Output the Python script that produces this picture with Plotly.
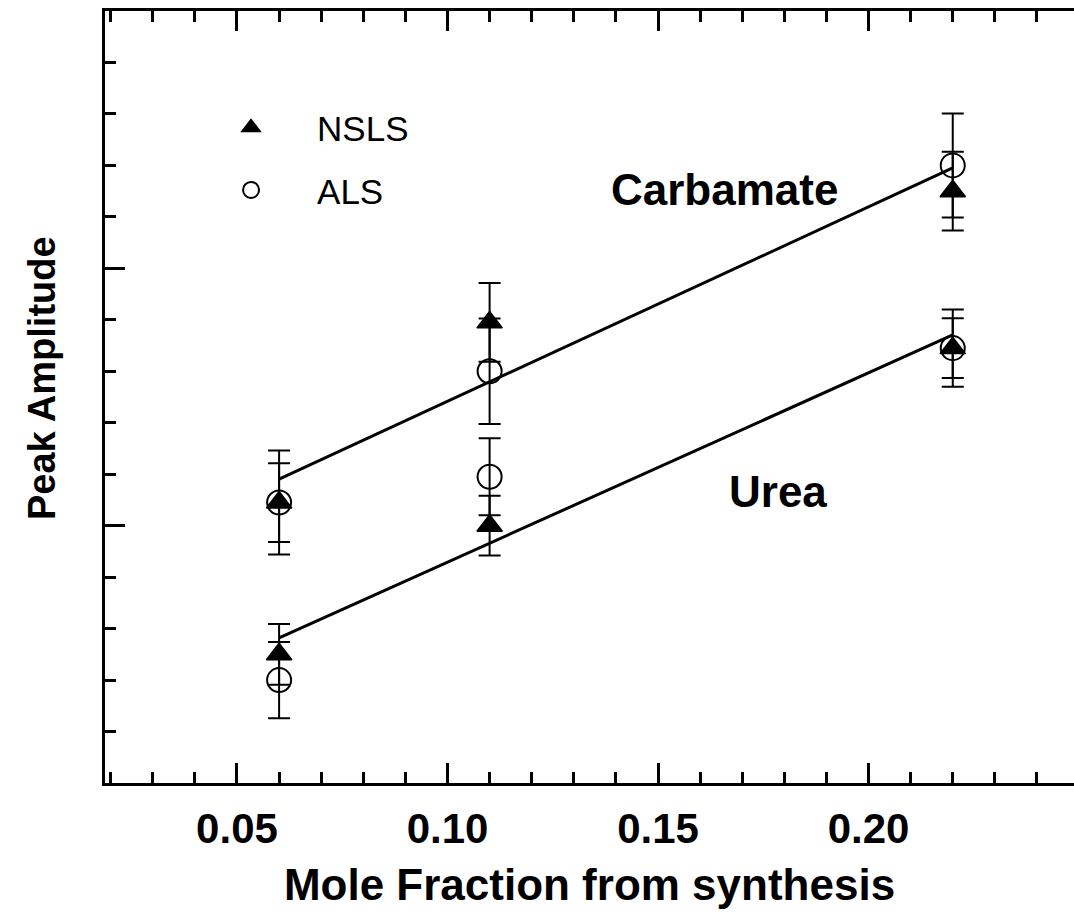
import plotly.graph_objects as go

# ---- data ----
mole_fraction = [0.06, 0.11, 0.22]

nsls_carbamate = [1.09, 1.79, 2.30]
nsls_carbamate_err = [0.153, 0.153, 0.153]
als_carbamate = [1.09, 1.60, 2.40]
als_carbamate_err = [0.202, 0.205, 0.202]

nsls_urea = [0.50, 1.00, 1.69]
nsls_urea_err = [0.118, 0.116, 0.116]
als_urea = [0.40, 1.19, 1.69]
als_urea_err = [0.148, 0.150, 0.150]

fit_x = [0.06, 0.22]
carbamate_fit = [1.181, 2.39]
urea_fit = [0.564, 1.741]

x_tickvals = [0.05, 0.10, 0.15, 0.20]
x_ticktext = ["0.05", "0.10", "0.15", "0.20"]

FONT = "Liberation Sans, Arial, Helvetica, sans-serif"
X_RANGE = [0.01865, 0.2488]

fig = go.Figure()

# fit lines (drawn against the top x axes, which share the same range)
fig.add_trace(go.Scatter(x=fit_x, y=carbamate_fit, mode="lines", xaxis="x2", yaxis="y",
                         line=dict(color="black", width=3),
                         showlegend=False, hoverinfo="skip"))
fig.add_trace(go.Scatter(x=fit_x, y=urea_fit, mode="lines", xaxis="x3", yaxis="y",
                         line=dict(color="black", width=3),
                         showlegend=False, hoverinfo="skip"))

def err(arr):
    return dict(type="data", array=arr, visible=True, color="black",
                thickness=2, width=11)

# NSLS (filled triangles)
fig.add_trace(go.Scatter(x=mole_fraction, y=nsls_carbamate, mode="markers",
                         name="NSLS", legendgroup="nsls",
                         marker=dict(symbol="triangle-up", size=22, color="black",
                                     line=dict(color="black", width=1.5)),
                         error_y=err(nsls_carbamate_err)))
fig.add_trace(go.Scatter(x=mole_fraction, y=nsls_urea, mode="markers",
                         name="NSLS", legendgroup="nsls", showlegend=False,
                         marker=dict(symbol="triangle-up", size=22, color="black",
                                     line=dict(color="black", width=1.5)),
                         error_y=err(nsls_urea_err)))
# ALS (open circles)
fig.add_trace(go.Scatter(x=mole_fraction, y=als_carbamate, mode="markers",
                         name="ALS", legendgroup="als",
                         marker=dict(symbol="circle-open", size=24, color="black",
                                     line=dict(color="black", width=2)),
                         error_y=err(als_carbamate_err)))
fig.add_trace(go.Scatter(x=mole_fraction, y=als_urea, mode="markers",
                         name="ALS", legendgroup="als", showlegend=False,
                         marker=dict(symbol="circle-open", size=24, color="black",
                                     line=dict(color="black", width=2)),
                         error_y=err(als_urea_err)))

fig.add_annotation(x=0.1658, y=2.305, text="Carbamate", showarrow=False,
                   font=dict(family=FONT, size=44, color="black", weight="bold"))
fig.add_annotation(x=0.1785, y=1.131, text="Urea", showarrow=False,
                   font=dict(family=FONT, size=44, color="black", weight="bold"))
# y-axis title
fig.add_annotation(xref="paper", yref="paper", x=-0.065, y=0.5246,
                   text="Peak Amplitude", textangle=-90, showarrow=False,
                   xanchor="center", yanchor="middle",
                   font=dict(family=FONT, size=38, color="black", weight="bold"))

tick_style = dict(ticks="inside", tickwidth=2.5, tickcolor="black",
                  showline=True, linewidth=3, linecolor="black",
                  showgrid=False, zeroline=False)
x_minor = dict(dtick=0.01, tick0=0, ticks="inside", ticklen=11,
               tickwidth=2.5, tickcolor="black", showgrid=False)

fig.update_layout(
    width=1074, height=915,
    margin=dict(l=105, r=0, t=11, b=132),
    paper_bgcolor="white", plot_bgcolor="white",
    font=dict(family=FONT, color="black"),
    showlegend=True,
    legend=dict(x=0.0826, y=0.887, xanchor="left", yanchor="top",
                bgcolor="rgba(0,0,0,0)", font=dict(family=FONT, size=35, color="black"),
                itemwidth=122, tracegroupgap=14),
    xaxis=dict(range=X_RANGE, tickvals=x_tickvals, ticktext=x_ticktext,
               mirror=False, minor=x_minor, ticklen=20,
               tickfont=dict(family=FONT, size=42, color="black", weight="bold"),
               ticklabelstandoff=7,
               title=dict(text="Mole Fraction from synthesis", standoff=18,
                          font=dict(family=FONT, size=44, color="black", weight="bold")),
               **tick_style),
    # top axis: major ticks
    xaxis2=dict(range=X_RANGE, overlaying="x", side="top", anchor="y",
                tickvals=x_tickvals, ticklen=20, showticklabels=False,
                **tick_style),
    # top axis: minor ticks
    xaxis3=dict(range=X_RANGE, overlaying="x", side="top", anchor="y",
                tick0=0, dtick=0.01, ticklen=11, showticklabels=False,
                **tick_style),
    yaxis=dict(range=[0, 3], tick0=0, dtick=1, ticklen=20, showticklabels=False,
               mirror=False,
               minor=dict(dtick=0.2, tick0=0, ticks="inside", ticklen=11,
                          tickwidth=2.5, tickcolor="black", showgrid=False),
               **tick_style),
)

fig.write_html("out.html")
